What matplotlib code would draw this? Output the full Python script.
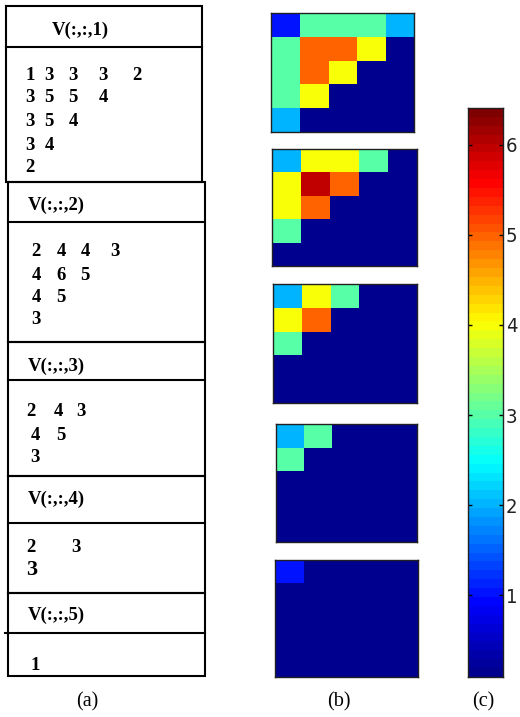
import matplotlib
matplotlib.use("Agg")
import matplotlib.pyplot as plt
import numpy as np
from matplotlib import font_manager
from matplotlib.colors import LinearSegmentedColormap

# ---- data: the five slices V(:,:,k), upper-left triangles (row by row) ----
V1_rows = [[1, 3, 3, 3, 2], [3, 5, 5, 4], [3, 5, 4], [3, 4], [2]]
V2_rows = [[2, 4, 4, 3], [4, 6, 5], [4, 5], [3]]
V3_rows = [[2, 4, 3], [4, 5], [3]]
V4_rows = [[2, 3], [3]]
V5_rows = [[1]]
slices = [V1_rows, V2_rows, V3_rows, V4_rows, V5_rows]
titles = ["V(:,:,1)", "V(:,:,2)", "V(:,:,3)", "V(:,:,4)", "V(:,:,5)"]
grid_n = 5
color_limits = (0.09, 6.41)
cbar_ticks = [1, 2, 3, 4, 5, 6]
panel_labels = ["(a)", "(b)", "(c)"]


def to_matrix(rows, n):
    m = np.zeros((n, n))
    for i, r in enumerate(rows):
        m[i, :len(r)] = r
    return m


# classic 64-level jet (blue -> cyan -> yellow -> red)
jet64 = LinearSegmentedColormap(
    "jet64",
    {
        "red": [(0, 0, 0), (3 / 8, 0, 0), (5 / 8, 1, 1), (7 / 8, 1, 1), (1, 0.5, 0.5)],
        "green": [(0, 0, 0), (1 / 8, 0, 0), (3 / 8, 1, 1), (5 / 8, 1, 1), (7 / 8, 0, 0), (1, 0, 0)],
        "blue": [(0, 0.5625, 0.5625), (1 / 8, 1, 1), (3 / 8, 1, 1), (5 / 8, 0, 0), (1, 0, 0)],
    },
    N=64,
)

W, H = 520, 717
DPI = 100
fig = plt.figure(figsize=(W / DPI, H / DPI), dpi=DPI)
fig.patch.set_facecolor("white")


def rect(x0, y0, x1, y1):
    """pixel box (top-left origin) -> figure fraction rect"""
    return [x0 / W, 1 - y1 / H, (x1 - x0) / W, (y1 - y0) / H]


available = {f.name for f in font_manager.fontManager.ttflist}
serif = "Liberation Serif" if "Liberation Serif" in available else "DejaVu Serif"
if "Liberation Sans Narrow" in available:
    narrow, narrow_stretch = "Liberation Sans Narrow", "normal"
else:
    narrow, narrow_stretch = "DejaVu Sans", "condensed"

# ---- (a) table of slice values ----
tab = fig.add_axes([0, 0, 1, 1])
tab.set_xlim(0, W)
tab.set_ylim(H, 0)
tab.axis("off")
lw = 1.5

# box outlines: (left, right, top, header line, bottom)
boxes = [
    (6, 202, 6, 47, 182),
    (8, 205, 182, 222, 342),
    (8, 205, 342, 380, 476),
    (8, 205, 476, 523, 593),
    (8, 205, 593, 633, 676),
]
for (l, r, t, hline, b) in boxes:
    tab.plot([l, r, r, l, l], [t, t, b, b, t], color="black", lw=lw,
             solid_joinstyle="miter")
    tab.plot([l, r], [hline, hline], color="black", lw=lw)
# the last header rule runs a little past the left edge
tab.plot([5, 8], [633, 633], color="black", lw=lw)

title_pos = [(80, 30), (56, 205), (56, 366), (56, 499), (56, 615)]
# text anchor positions for each row of each slice
row_y = [[75, 98, 122, 145, 168], [251, 275, 297, 320], [412, 435, 458],
         [547, 570], [665]]
row_x = [
    [[30, 49, 73, 103, 137], [30, 49, 73, 103], [30, 49, 73], [30, 49], [30]],
    [[36, 61, 85, 115], [36, 61, 85], [36, 61], [36]],
    [[31, 58, 81], [35, 61], [35]],
    [[31, 76], [32]],
    [[35]],
]
row_size = [[13.5] * 5, [13.5] * 4, [13.5] * 3, [13.5, 16], [13.5]]

for k, rows in enumerate(slices):
    tx, ty = title_pos[k]
    tab.text(tx, ty, titles[k], ha="center", va="center", family=serif,
             weight="bold", fontsize=13.5)
    for i, r in enumerate(rows):
        for j, v in enumerate(r):
            tab.text(row_x[k][i][j], row_y[k][i], str(v), ha="center",
                     va="center", family=serif, weight="bold",
                     fontsize=row_size[k][i])

# ---- (b) heat maps of the slices ----
hm_boxes = [
    (271, 13, 414, 132),
    (272, 149, 417, 266),
    (273, 284, 417, 403),
    (276, 424, 417, 542),
    (275, 560, 418, 677),
]
for k, rows in enumerate(slices):
    ax = fig.add_axes(rect(*hm_boxes[k]))
    ax.imshow(to_matrix(rows, grid_n), cmap=jet64, vmin=color_limits[0],
              vmax=color_limits[1], aspect="auto", interpolation="nearest")
    ax.set_xticks([])
    ax.set_yticks([])
    for s in ax.spines.values():
        s.set_linewidth(1.0)
        s.set_color("#202020")

# ---- (c) colour bar ----
cax = fig.add_axes(rect(468, 108, 503, 677))
grad = np.linspace(color_limits[0], color_limits[1], 64).reshape(-1, 1)
cax.imshow(grad, cmap=jet64, vmin=color_limits[0], vmax=color_limits[1],
           aspect="auto", origin="lower", interpolation="nearest",
           extent=[0, 1, color_limits[0], color_limits[1]])
cax.set_xlim(0, 1)
cax.set_ylim(*color_limits)
cax.set_xticks([])
cax.yaxis.tick_right()
cax.set_yticks(cbar_ticks)
cax.set_yticklabels([str(t) for t in cbar_ticks], family=narrow,
                    fontstretch=narrow_stretch, fontsize=14.5, color="#222222")
cax.tick_params(axis="y", direction="in", length=3, width=1, left=True,
                right=True, pad=2)
for s in cax.spines.values():
    s.set_linewidth(1.0)
    s.set_color("#202020")

# ---- panel captions ----
for (x, lab) in zip([87, 339, 483], panel_labels):
    tab.text(x, 702, lab, ha="center", va="center", family=serif, fontsize=14.5)

fig.savefig("out.png", dpi=DPI, facecolor="white")
